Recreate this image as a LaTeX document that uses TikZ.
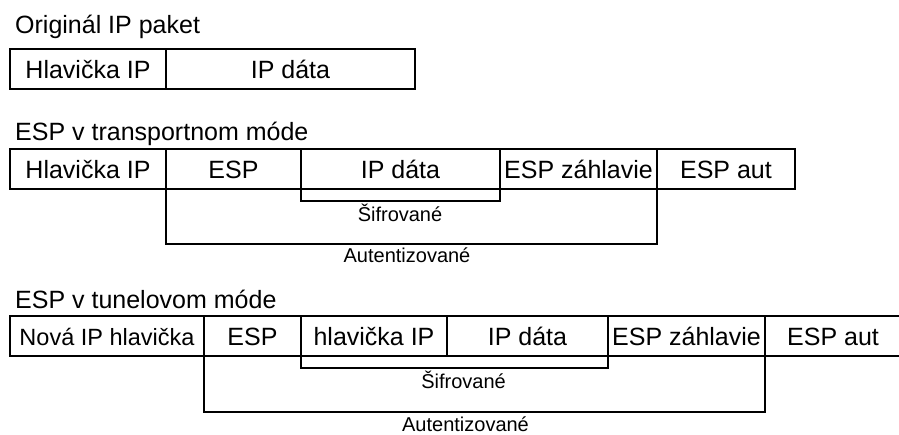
\documentclass[tikz,border=0pt]{standalone}
\usepackage{fontspec}
\setmainfont{Liberation Sans}
\begin{document}
\begin{tikzpicture}[x=1pt,y=-1pt,
  cell/.style={draw, line width=1.6pt, inner sep=0pt, outer sep=0pt,
    minimum height=40pt, text height=18pt, text depth=0pt,
    font=\fontsize{25}{30}\selectfont},
  opencell/.style={cell, draw=none},
  title/.style={anchor=base west, inner sep=0pt, font=\fontsize{25}{30}\selectfont},
  small/.style={anchor=base, inner sep=0pt, font=\fontsize{20}{24}\selectfont},
  bracket/.style={line width=1.2pt}]
\useasboundingbox (0,0) rectangle (899,434);

% Row 1
\node[title] (t1) at (15,33) {Originál IP paket};
\node[cell, minimum width=156pt] (r1a) at (88,69) {Hlavička IP};
\node[cell, minimum width=249pt] (r1b) at (290.5,69) {IP dáta};

% Row 2
\node[title] (t2) at (15,140) {ESP v transportnom móde};
\node[cell, minimum width=156pt] (r2a) at (88,169) {Hlavička IP};
\node[cell, minimum width=135pt] (r2b) at (233.5,169) {ESP};
\node[cell, minimum width=199pt] (r2c) at (400.5,169) {IP dáta};
\node[cell, minimum width=157pt] (r2d) at (578.5,169) {ESP záhlavie};
\node[cell, minimum width=138pt] (r2e) at (726,169) {ESP aut};
\draw[bracket] (r2c.south west) -- ++(0,12) -| (r2c.south east);
\node[small] (s2) at (400,221) {Šifrované};
\draw[bracket] (r2b.south west) -- ++(0,55) -| (r2d.south east);
\node[small] (a2) at (407,262) {Autentizované};

% Row 3
\node[title] (t3) at (15,308) {ESP v tunelovom móde};
\node[cell, minimum width=194pt, font=\fontsize{23.5}{28}\selectfont] (r3a) at (107,336) {Nová IP hlavička};
\node[cell, minimum width=97pt] (r3b) at (252.5,336) {ESP};
\node[cell, minimum width=146pt] (r3c) at (374,336) {hlavička IP};
\node[cell, minimum width=161pt] (r3d) at (527.5,336) {IP dáta};
\node[cell, minimum width=157pt] (r3e) at (686.5,336) {ESP záhlavie};
\node[opencell, minimum width=136pt] (r3f) at (833,336) {ESP aut};
\draw[line width=1.6pt] (r3f.north west) -- (r3f.north east);
\draw[line width=1.6pt] (r3f.south west) -- (r3f.south east);
\draw[bracket] (r3c.south west) -- ++(0,12) -| (r3d.south east);
\node[small] (s3) at (463.5,388) {Šifrované};
\draw[bracket] (r3b.south west) -- ++(0,56) -| (r3e.south east);
\node[small] (a3) at (465.5,431) {Autentizované};
\end{tikzpicture}
\end{document}
